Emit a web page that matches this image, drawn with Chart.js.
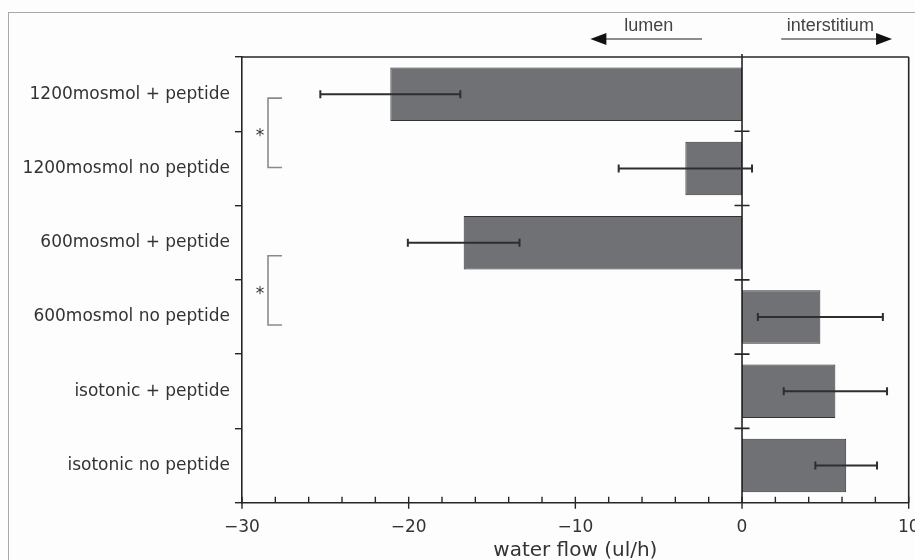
<!DOCTYPE html>
<html>
<head>
<meta charset="utf-8">
<script src="https://cdn.jsdelivr.net/npm/chart.js@4"></script>
<style>
  html, body { margin: 0; padding: 0; background: #fdfdfd; }
  #wrap { position: relative; width: 915px; height: 560px; overflow: hidden; }
  #frame { position: absolute; left: 8px; top: 12px; width: 1000px; height: 700px;
           border-top: 1.5px solid #a8a8a8; border-left: 1.5px solid #a8a8a8; }
  canvas { position: absolute; left: 0; top: 0; }
</style>
</head>
<body>
<div id="wrap">
  <div id="frame"></div>
  <canvas id="chart" width="915" height="560"></canvas>
</div>
<script>
const categories = [
  '1200mosmol + peptide',
  '1200mosmol no peptide',
  '600mosmol + peptide',
  '600mosmol no peptide',
  'isotonic + peptide',
  'isotonic no peptide'
];
const flow = [-21.1, -3.4, -16.7, 4.7, 5.6, 6.25];
const flowErr = [4.2, 4.0, 3.35, 3.75, 3.1, 1.85];
// significance brackets (pairs of category indices)
const brackets = [[0, 1], [2, 3]];
const directions = [
  { text: 'lumen', from: -2.4, to: -9.1, at: -5.6 },
  { text: 'interstitium', from: 2.35, to: 9.0, at: 5.3 }
];

const ink = '#262626';
const fontFam = '"DejaVu Sans", sans-serif';

const extras = {
  id: 'extras',
  afterDatasetsDraw(chart) {
    const { ctx, chartArea: a, scales: { x, y } } = chart;
    const meta = chart.getDatasetMeta(0);
    ctx.save();

    // top / right spines
    ctx.strokeStyle = ink;
    ctx.lineWidth = 1.6;
    ctx.beginPath();
    ctx.moveTo(a.left, a.top); ctx.lineTo(a.right, a.top);
    ctx.moveTo(a.right, a.top); ctx.lineTo(a.right, a.bottom);
    ctx.stroke();

    // zero line with crossing ticks between categories
    const x0 = x.getPixelForValue(0);
    ctx.beginPath();
    ctx.moveTo(x0, a.top - 3); ctx.lineTo(x0, a.bottom);
    for (let i = 1; i < categories.length; i++) {
      const yb = (y.getPixelForValue(i - 1) + y.getPixelForValue(i)) / 2;
      ctx.moveTo(x0 - 7.5, yb); ctx.lineTo(x0 + 7.5, yb);
    }
    ctx.stroke();

    // x ticks: majors cross the axis, minors point inward
    ctx.lineWidth = 1.4;
    ctx.beginPath();
    x.ticks.forEach(t => {
      const px = x.getPixelForValue(t.value);
      if (t.value % 10 === 0) {
        ctx.moveTo(px, a.bottom - 6); ctx.lineTo(px, a.bottom + 6);
      } else {
        ctx.moveTo(px, a.bottom - 6); ctx.lineTo(px, a.bottom);
      }
    });
    ctx.stroke();

    // error bars
    ctx.strokeStyle = '#2e2e2e';
    ctx.lineWidth = 2;
    meta.data.forEach((bar, i) => {
      const lo = x.getPixelForValue(flow[i] - flowErr[i]);
      const hi = x.getPixelForValue(flow[i] + flowErr[i]);
      ctx.beginPath();
      ctx.moveTo(lo, bar.y); ctx.lineTo(hi, bar.y);
      ctx.moveTo(lo, bar.y - 4); ctx.lineTo(lo, bar.y + 4);
      ctx.moveTo(hi, bar.y - 4); ctx.lineTo(hi, bar.y + 4);
      ctx.stroke();
    });

    // significance brackets
    const offs = [[4, -1], [13, 8]];
    brackets.forEach(([i, j], k) => {
      const yt = y.getPixelForValue(i) + offs[k][0];
      const yb = y.getPixelForValue(j) + offs[k][1];
      const xv = a.left + 26, xa = a.left + 40;
      ctx.strokeStyle = '#8a8a8a';
      ctx.lineWidth = 1.6;
      ctx.beginPath();
      ctx.moveTo(xa, yt); ctx.lineTo(xv, yt); ctx.lineTo(xv, yb); ctx.lineTo(xa, yb);
      ctx.stroke();
      ctx.fillStyle = '#333';
      ctx.font = '17px ' + fontFam;
      ctx.textAlign = 'center';
      ctx.textBaseline = 'middle';
      ctx.fillText('*', a.left + 18, (yt + yb) / 2 + 4);
    });

    // direction arrows above the plot
    directions.forEach(d => {
      const p1 = x.getPixelForValue(d.from), p2 = x.getPixelForValue(d.to);
      const ya = 39;
      const dir = Math.sign(p2 - p1);
      ctx.strokeStyle = '#8c8c8c';
      ctx.lineWidth = 2;
      ctx.beginPath();
      ctx.moveTo(p1, ya); ctx.lineTo(p2 - dir * 12, ya);
      ctx.stroke();
      ctx.fillStyle = '#111';
      ctx.beginPath();
      ctx.moveTo(p2, ya);
      ctx.lineTo(p2 - dir * 16, ya - 6);
      ctx.lineTo(p2 - dir * 16, ya + 6);
      ctx.closePath();
      ctx.fill();
      ctx.fillStyle = '#444';
      ctx.font = '18px "Liberation Sans Narrow", "Liberation Sans", sans-serif';
      ctx.textAlign = 'center';
      ctx.textBaseline = 'middle';
      ctx.fillText(d.text, x.getPixelForValue(d.at), 26);
    });

    ctx.restore();
  }
};

const fmt = v => (v < 0 ? '\u2212' + Math.abs(v) : String(v));

new Chart(document.getElementById('chart').getContext('2d'), {
  type: 'bar',
  data: {
    labels: categories,
    datasets: [{
      data: flow,
      backgroundColor: '#707174',
      borderColor: '#333333',
      borderWidth: 1,
      borderSkipped: false,
      barPercentage: 0.72,
      categoryPercentage: 1
    }]
  },
  options: {
    indexAxis: 'y',
    responsive: false,
    animation: false,
    devicePixelRatio: 1,
    layout: { padding: { top: 57, right: 6.3, left: 0, bottom: 0 } },
    plugins: { legend: { display: false }, tooltip: { enabled: false } },
    scales: {
      x: {
        min: -30,
        max: 10,
        afterFit: s => { s.height = 57.3; s.paddingLeft = 0; s.paddingRight = 0; },
        grid: { display: false },
        border: { display: true, color: ink, width: 1.6 },
        ticks: {
          stepSize: 2,
          autoSkip: false,
          maxRotation: 0,
          padding: 7,
          color: '#333',
          font: { family: fontFam, size: 17 },
          callback: v => (v % 10 === 0 ? fmt(v) : '')
        },
        title: {
          display: true,
          text: 'water flow (ul/h)',
          color: '#333',
          font: { family: fontFam, size: 20 },
          padding: { top: 0, bottom: -3 }
        }
      },
      y: {
        afterFit: s => { s.width = 242; s.paddingTop = 0; s.paddingBottom = 0; },
        grid: { display: true, offset: true, drawOnChartArea: false, drawTicks: true, tickLength: 7, color: ink, lineWidth: 1.4 },
        border: { display: true, color: ink, width: 1.6 },
        ticks: {
          padding: 5,
          color: '#333',
          font: { family: fontFam, size: 17 }
        }
      }
    }
  },
  plugins: [extras]
});
</script>
</body>
</html>
